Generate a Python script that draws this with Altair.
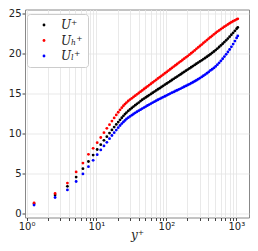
import altair as alt
import pandas as pd

# y+ positions (discrete near-wall points, then dense outer region)
yplus = [1.28, 2.56, 3.84, 5.12, 6.4, 7.68, 8.96, 10.24, 11.52, 12.8, 14.08, 15.36,
         16.64, 17.92, 19.2, 20.48, 21.76, 23.04, 24.32, 25.6,
         26.9, 28.5, 30.2, 32.0, 33.9, 35.9, 38.0, 40.3, 42.7, 45.2, 47.9, 50.7, 53.7,
         56.9, 60.3, 63.8, 67.6, 71.6, 75.9, 80.4, 85.1, 90.2, 95.5, 101.2, 107.2,
         113.5, 120.2, 127.4, 134.9, 142.9, 151.4, 160.3, 169.8, 179.9, 190.5, 201.8,
         213.8, 226.5, 239.9, 254.1, 269.2, 285.1, 302.0, 319.9, 338.8, 358.9, 380.2,
         402.7, 426.6, 451.9, 478.6, 507.0, 537.0, 568.9, 602.6, 638.3, 676.1, 716.1,
         758.6, 803.5, 851.1, 901.6, 955.0, 1011.6, 1050]

u_plus = [1.22, 2.3, 3.4, 4.55, 5.6, 6.5, 7.3, 8.0, 8.6, 9.15, 9.6, 10.05, 10.45, 10.8,
          11.13, 11.43, 11.71, 11.97, 12.21, 12.43,
          12.62, 12.82, 13.01, 13.19, 13.37, 13.54, 13.71, 13.87, 14.05, 14.22, 14.37,
          14.51, 14.66, 14.80, 14.95, 15.09, 15.24, 15.38, 15.53, 15.67, 15.82, 15.96,
          16.11, 16.25, 16.40, 16.54, 16.69, 16.83, 16.98, 17.12, 17.27, 17.41, 17.56,
          17.70, 17.85, 17.99, 18.14, 18.28, 18.43, 18.57, 18.72, 18.86, 19.01, 19.15,
          19.30, 19.44, 19.59, 19.75, 19.91, 20.08, 20.25, 20.43, 20.62, 20.81, 21.01,
          21.22, 21.43, 21.65, 21.87, 22.10, 22.34, 22.58, 22.83, 23.09, 23.26]

u_high = [1.32, 2.5, 3.8, 5.2, 6.3, 7.4, 8.15, 8.85, 9.5, 10.1, 10.65, 11.1, 11.55, 11.95,
          12.32, 12.66, 12.96, 13.23, 13.47, 13.68,
          13.87, 14.06, 14.24, 14.40, 14.57, 14.73, 14.90, 15.06, 15.23, 15.39, 15.56,
          15.72, 15.89, 16.05, 16.22, 16.38, 16.55, 16.71, 16.88, 17.04, 17.21, 17.37,
          17.54, 17.70, 17.87, 18.03, 18.20, 18.36, 18.53, 18.69, 18.86, 19.02, 19.19,
          19.35, 19.52, 19.68, 19.85, 20.03, 20.21, 20.39, 20.58, 20.76, 20.94, 21.12,
          21.31, 21.49, 21.68, 21.86, 22.04, 22.21, 22.40, 22.57, 22.74, 22.89, 23.05,
          23.20, 23.35, 23.49, 23.64, 23.78, 23.92, 24.04, 24.15, 24.27, 24.33]

u_low = [1.05, 2.0, 2.95, 4.0, 4.95, 5.85, 6.65, 7.35, 7.95, 8.45, 8.9, 9.35, 9.75, 10.1,
         10.43, 10.73, 11.0, 11.24, 11.45, 11.64,
         11.82, 11.98, 12.14, 12.29, 12.44, 12.58, 12.72, 12.85, 12.98, 13.11, 13.24,
         13.37, 13.5, 13.62, 13.74, 13.86, 13.98, 14.1, 14.22, 14.33, 14.44, 14.55,
         14.66, 14.77, 14.88, 14.99, 15.1, 15.2, 15.31, 15.41, 15.52, 15.62, 15.73,
         15.84, 15.95, 16.06, 16.17, 16.29, 16.41, 16.53, 16.66, 16.79, 16.93, 17.07,
         17.22, 17.37, 17.53, 17.7, 17.88, 18.03, 18.2, 18.39, 18.6, 18.83, 19.08,
         19.34, 19.62, 19.9, 20.19, 20.5, 20.83, 21.18, 21.55, 21.95, 22.2]

names = ["U⁺", "Uₕ⁺", "Uₗ⁺"]
colors = ["#000000", "#ff0000", "#0000ff"]
x_ticks = [1, 2, 3, 4, 5, 6, 7, 8, 9, 10, 20, 30, 40, 50, 60, 70, 80, 90,
           100, 200, 300, 400, 500, 600, 700, 800, 900, 1000]
y_ticks = [0, 5, 10, 15, 20, 25]

rows = []
for name, vals in zip(names, [u_plus, u_high, u_low]):
    for xp, u in zip(yplus, vals):
        rows.append({"yplus": xp, "U": u, "series": name})
df = pd.DataFrame(rows)

label_expr = ("datum.value == 1 ? '10⁰' : datum.value == 10 ? '10¹' : "
              "datum.value == 100 ? '10²' : datum.value == 1000 ? '10³' : ''")

chart = alt.Chart(df).mark_circle(size=8, opacity=1).encode(
    x=alt.X("yplus:Q",
            scale=alt.Scale(type="log", domain=[0.95, 1520], nice=False),
            axis=alt.Axis(values=x_ticks, labelExpr=label_expr, title="y⁺",
                          labelFlush=False, labelOverlap=False,
                          titleFont="DejaVu Serif", titleFontStyle="italic",
                          titleFontWeight="normal", titleFontSize=12,
                          titleY=21, titleBaseline="alphabetic", titleColor="#222")),
    y=alt.Y("U:Q",
            scale=alt.Scale(domain=[-0.5, 25.5], nice=False, zero=False),
            axis=alt.Axis(values=y_ticks, title=None)),
    color=alt.Color("series:N",
                    scale=alt.Scale(domain=names, range=colors),
                    legend=alt.Legend(title=None, orient="none", legendX=2, legendY=4.5,
                                      fillColor="white", strokeColor="#cccccc",
                                      cornerRadius=3, padding=5, rowPadding=3.5,
                                      symbolOffset=6, labelOffset=11,
                                      symbolSize=8, symbolType="circle",
                                      labelFont="DejaVu Serif", labelFontStyle="italic",
                                      labelFontSize=12, labelColor="#222")),
).properties(
    width=224, height=208,
    autosize=alt.AutoSizeParams(type="none"),
    padding={"left": 17, "top": 1.5, "right": 1, "bottom": 25.5},
).configure_view(
    stroke="#888888", strokeWidth=1
).configure_axis(
    domain=False, grid=True, gridColor="#e3e3e3", gridWidth=0.8,
    tickSize=3, tickColor="#444444", labelPadding=1,
    labelFont="DejaVu Sans", labelFontSize=10, labelColor="#222222"
)

chart.save("out.html", embed_options={"renderer": "svg", "actions": False})
